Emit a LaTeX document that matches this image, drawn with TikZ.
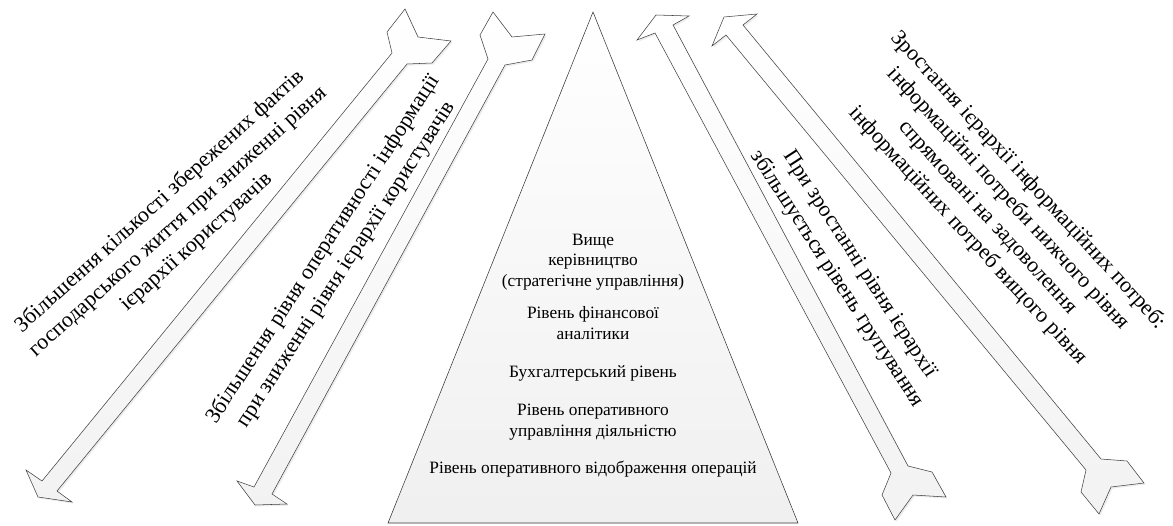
\documentclass[tikz,border=0pt]{standalone}
\usepackage{fontspec}
\setmainfont{Liberation Serif}
\usetikzlibrary{shadows}

\tikzstyle{block arrow}=[draw=black!75,line join=miter,top color=white,bottom color=black!5,drop shadow={opacity=0.15,shadow xshift=1.2pt,shadow yshift=-1.2pt}]
\tikzstyle{pyramid}=[draw=black!80,top color=white,bottom color=black!6]
\tikzstyle{level text}=[align=center,font=\fontsize{13}{15.5}\selectfont,inner sep=0pt]
\tikzstyle{arrow text}=[align=center,font=\fontsize{16.5}{20.5}\selectfont,inner sep=0pt]

\begin{document}
\begin{tikzpicture}[x=0.75pt,y=-0.75pt]
			\useasboundingbox (0,0) rectangle (1173,525);
			% The four block arrows
			\path[block arrow] (392,53) -- (387,32) -- (405,9) -- (418,37) -- (451,41) -- (432,63) -- (407,64)
				-- (57,491) -- (72,502) -- (38,497) -- (26,470) -- (42,481) -- cycle;
			\path[block arrow] (488,59) -- (480,35) -- (493,12) -- (512,37) -- (545,34) -- (532,60) -- (505,65)
				-- (272,494) -- (287,504) -- (255,505) -- (237,481) -- (254,487) -- cycle;
			\path[block arrow] (655,33) -- (637,40) -- (656,15) -- (689,16) -- (673,25)
				-- (908,466) -- (932,472) -- (946,497) -- (913,495) -- (895,520) -- (882,495) -- (891,473) -- cycle;
			\path[block arrow] (726,35) -- (712,46) -- (724,17) -- (757,14) -- (743,25)
				-- (1101,459) -- (1127,461) -- (1144,483) -- (1111,487) -- (1099,514) -- (1081,492) -- (1086,470) -- cycle;
			% The pyramid of levels
			\path[pyramid] (593,12) -- (798,523) -- (388,523) -- cycle;
			\node[level text] (top) at (593,262) {Вище\\керівництво\\(стратегічне управління)};
			\node[level text] (fin) at (593,323) {Рівень фінансової\\аналітики};
			\node[level text] (acc) at (593,373) {Бухгалтерський рівень};
			\node[level text] (ops) at (593,422) {Рівень оперативного\\управління діяльністю};
			\node[level text] (rec) at (593,469) {Рівень оперативного відображення операцій};
			% Texts along the arrows
			\node[arrow text,rotate=42] (facts) at (178,222) {Збільшення кількості збережених фактів\\господарського життя при зниженні рівня\\ієрархії користувачів};
			\node[arrow text,rotate=57] (speed) at (335,257) {Збільшення рівня оперативності інформації\\при зниженні рівня ієрархії користувачів};
			\node[arrow text,rotate=-57] (group) at (848,272) {При зростанні рівня ієрархії\\збільшується рівень групування};
			\node[arrow text,rotate=-47.5] (needs) at (998,208) {Зростання ієрархії інформаційних потреб:\\інформаційні потреби нижчого рівня\\спрямовані на задоволення\\інформаційних потреб вищого рівня};
		\end{tikzpicture}
\end{document}
